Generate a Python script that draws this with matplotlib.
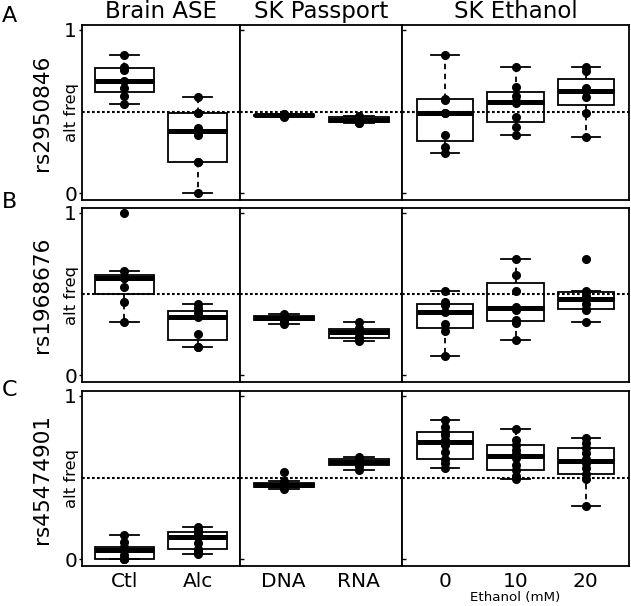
import numpy as np
import matplotlib
matplotlib.use('Agg')
import matplotlib.pyplot as plt

# --- Data (alt allele frequencies) ---
snps = ['rs2950846', 'rs1968676', 'rs45474901']
panel_letters = ['A', 'B', 'C']
panel_titles = ['Brain ASE', 'SK Passport', 'SK Ethanol']
group_labels = [['Ctl', 'Alc'], ['DNA', 'RNA'], ['0', '10', '20']]

# one entry per SNP, each entry holds the groups of that panel
brain_ase = [
    [[0.846, 0.776, 0.756, 0.685, 0.642, 0.598, 0.547],
     [0.0, 0.195, 0.195, 0.36, 0.38, 0.40, 0.49, 0.49, 0.59]],
    [[0.327, 0.455, 0.542, 0.60, 0.602, 0.64, 1.0],
     [0.176, 0.176, 0.255, 0.362, 0.383, 0.414, 0.441]],
    [[0.0, 0.0, 0.0, 0.025, 0.055, 0.07, 0.076, 0.106, 0.147],
     [0.035, 0.05, 0.066, 0.10, 0.137, 0.15, 0.168, 0.18, 0.198]],
]
sk_passport = [
    [[0.468, 0.471, 0.474, 0.476, 0.478, 0.48, 0.482, 0.485, 0.488],
     [0.428, 0.432, 0.436, 0.442, 0.448, 0.455, 0.465, 0.47, 0.474]],
    [[0.315, 0.335, 0.34, 0.347, 0.352, 0.357, 0.365, 0.37, 0.38],
     [0.213, 0.225, 0.238, 0.262, 0.276, 0.28, 0.294, 0.331]],
    [[0.43, 0.44, 0.445, 0.45, 0.455, 0.462, 0.47, 0.48, 0.536],
     [0.55, 0.57, 0.584, 0.59, 0.60, 0.61, 0.614, 0.628]],
]
sk_ethanol = [
    [[0.246, 0.287, 0.36, 0.49, 0.49, 0.57, 0.58, 0.846],
     [0.358, 0.404, 0.465, 0.551, 0.566, 0.593, 0.652, 0.774],
     [0.343, 0.49, 0.587, 0.628, 0.644, 0.75, 0.774]],
    [[0.118, 0.273, 0.315, 0.393, 0.432, 0.45, 0.517],
     [0.217, 0.325, 0.342, 0.40, 0.424, 0.517, 0.621, 0.719],
     [0.327, 0.40, 0.408, 0.44, 0.47, 0.49, 0.514, 0.522, 0.719]],
    [[0.56, 0.59, 0.613, 0.66, 0.70, 0.732, 0.76, 0.777, 0.81, 0.853],
     [0.493, 0.51, 0.546, 0.58, 0.62, 0.644, 0.67, 0.697, 0.73, 0.796],
     [0.329, 0.49, 0.52, 0.56, 0.59, 0.616, 0.65, 0.683, 0.71, 0.744]],
]
panels = [brain_ase, sk_passport, sk_ethanol]


def fivenum(vals):
    """Tukey five number summary, same as R's fivenum()."""
    x = np.sort(np.asarray(vals, dtype=float))
    n = len(x)
    n4 = np.floor((n + 3) / 2) / 2
    d = np.array([1, n4, (n + 1) / 2, n + 1 - n4, n]) - 1
    return 0.5 * (x[np.floor(d).astype(int)] + x[np.ceil(d).astype(int)])


def box_stats(vals):
    x = np.asarray(vals, dtype=float)
    _, q1, med, q3, _ = fivenum(x)
    iqr = q3 - q1
    inside = x[(x >= q1 - 1.5 * iqr) & (x <= q3 + 1.5 * iqr)]
    return dict(med=med, q1=q1, q3=q3, whislo=inside.min(),
                whishi=inside.max(), fliers=[])


W, H = 631, 606
fig = plt.figure(figsize=(W / 100, H / 100), dpi=100)

# panel edges in pixels
col_edges = [(82, 240), (240, 402), (402, 629)]
row_edges = [(25, 200), (208, 382), (391, 566)]

LW = 1.3
for r, (top, bot) in enumerate(row_edges):
    for c, (x0, x1) in enumerate(col_edges):
        ax = fig.add_axes([x0 / W, 1 - bot / H, (x1 - x0) / W, (bot - top) / H])
        groups = panels[c][r]
        n = len(groups)
        pos = np.arange(1, n + 1)

        stats = [box_stats(g) for g in groups]
        ax.bxp(stats, positions=pos, widths=0.8, capwidths=0.4,
               patch_artist=True, showfliers=False,
               boxprops=dict(facecolor='white', edgecolor='black', linewidth=LW),
               medianprops=dict(color='black', linewidth=3.6, solid_capstyle='butt'),
               whiskerprops=dict(color='black', linewidth=LW, linestyle=(0, (3, 2.5))),
               capprops=dict(color='black', linewidth=LW))

        # 50/50 reference line
        ax.axhline(0.5, color='black', linewidth=1.5, linestyle=(0, (1.3, 1.1)), zorder=3)

        for i, g in enumerate(groups):
            ax.plot(np.full(len(g), pos[i]), g, 'o', color='black',
                    markersize=5.5, zorder=4)

        pad = 0.08 if n == 2 else 0.12
        ax.set_xlim(0.5 - pad, n + 0.5 + pad)
        ax.set_ylim(-0.04, 1.03)

        for sp in ax.spines.values():
            sp.set_linewidth(LW)

        ax.set_yticks([0, 1])
        if c == 0:
            ax.set_yticklabels(['0', '1'])
            ax.tick_params(axis='y', direction='out', length=2.5, width=1, pad=1,
                           labelsize=14.5)
        else:
            ax.set_yticklabels([])
            ax.tick_params(axis='y', direction='in', length=3, width=1)

        ax.set_xticks(pos)
        if r == 2:
            ax.set_xticklabels(group_labels[c])
            ax.tick_params(axis='x', length=0, pad=4.5, labelsize=14.5)
        else:
            ax.set_xticklabels([])
            ax.tick_params(axis='x', length=0)

        if r == 0:
            fig.text((x0 + x1) / 2 / W, 1 - 18 / H, panel_titles[c],
                     ha='center', va='baseline', fontsize=16.5)

    # row labels
    mid = (top + bot) / 2
    fig.text(42.5 / W, 1 - mid / H, snps[r], rotation=90,
             ha='center', va='center', fontsize=15.5)
    fig.text(71.5 / W, 1 - mid / H, 'alt freq', rotation=90,
             ha='center', va='center', fontsize=11.8)

fig.text(2 / W, 1 - 22 / H, panel_letters[0], ha='left', va='baseline', fontsize=16)
fig.text(2 / W, 1 - 208 / H, panel_letters[1], ha='left', va='baseline', fontsize=16)
fig.text(2 / W, 1 - 396 / H, panel_letters[2], ha='left', va='baseline', fontsize=16)

fig.text(515.5 / W, 1 - 601.5 / H, 'Ethanol (mM)', ha='center', va='baseline',
         fontsize=9.6)

fig.savefig('out.png', dpi=100)
